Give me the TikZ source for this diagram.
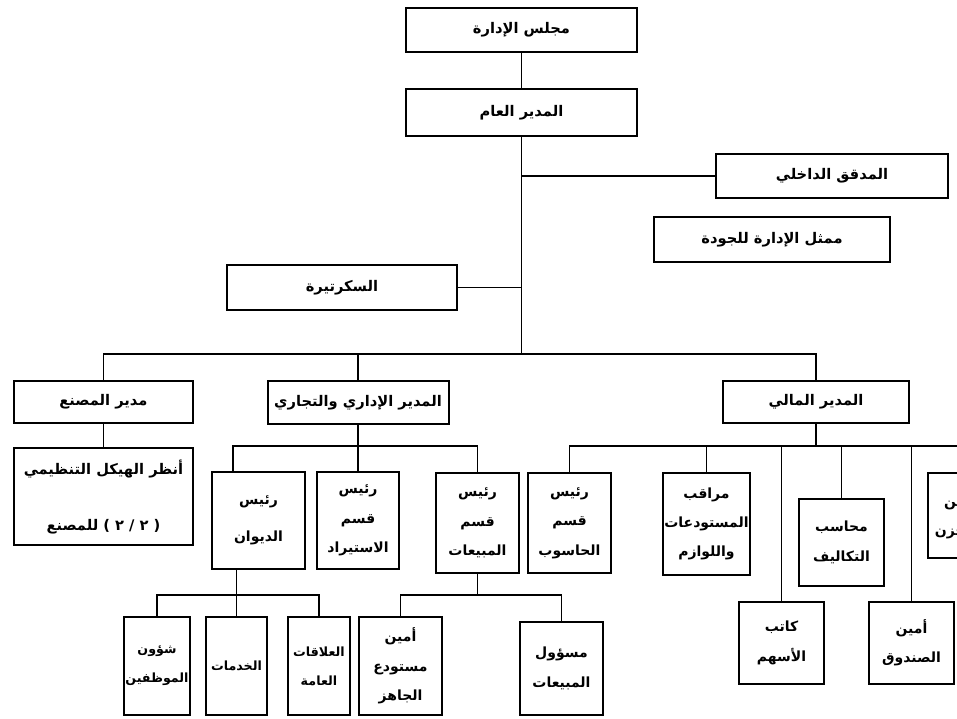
\documentclass[tikz,border=0pt]{standalone}
\usepackage{fontspec}
\usetikzlibrary{positioning}
\newfontfamily\arabicfont[Script=Arabic]{DejaVu Sans}
\TeXXeTstate=1
\newcommand{\artxt}[1]{{\arabicfont\bfseries\beginR #1\endR}}

\begin{document}
\begin{tikzpicture}[x=0.75pt,y=0.75pt,yscale=-1,xscale=1,
  unit/.style={draw, line width=1.5pt, inner sep=0.75pt, align=center, font=\fontsize{10.5}{22}\selectfont},
  head/.style={unit, font=\fontsize{11}{22}\selectfont},
  narrow/.style={unit, font=\fontsize{9.5}{22}\selectfont},
  link/.style={line width=1.1pt}]
\path[use as bounding box, clip] (0,0) rectangle (957,718);

%Shape: Rectangle -- top of the chart
\node[head, minimum width=173.25pt, minimum height=33pt] (board) at (521.5,30) {\artxt{مجلس الإدارة}};
\node[head, minimum width=173.25pt, minimum height=35.25pt] (gm) at (521.5,112.5) {\artxt{المدير العام}};
\node[head, minimum width=174pt, minimum height=33pt] (auditor) at (832,176) {\artxt{المدقق الداخلي}};
\node[head, minimum width=177pt, minimum height=33.75pt] (quality) at (772,239.5) {\artxt{ممثل الإدارة للجودة}};
\node[head, minimum width=172.5pt, minimum height=33.75pt] (secretary) at (342,287.5) {\artxt{السكرتيرة}};

%Shape: Rectangle -- directors
\node[head, minimum width=134.25pt, minimum height=31.5pt] (factory) at (103.5,402) {\artxt{مدير المصنع}};
\node[head, minimum width=135.75pt, minimum height=32.25pt] (admin) at (358,402.5) {\artxt{المدير الإداري والتجاري}};
\node[head, minimum width=139.5pt, minimum height=31.5pt] (finance) at (816,402) {\artxt{المدير المالي}};
\node[head, minimum width=134.25pt, minimum height=72.75pt] (seestruct) at (103.5,496.5) {\artxt{أنظر الهيكل التنظيمي}\\[20pt]\artxt{( ٢ / ٢ ) للمصنع}};

%Shape: Rectangle -- heads of sections
\node[unit, minimum width=69.75pt, minimum height=72.75pt] (divan) at (258.5,520.5) {\artxt{رئيس}\\[6pt]\artxt{الديوان}};
\node[unit, minimum width=61.5pt, minimum height=72.75pt] (import) at (358,520.5) {\artxt{رئيس}\\\artxt{قسم}\\\artxt{الاستيراد}};
\node[unit, minimum width=62.25pt, minimum height=75pt] (sales) at (477.5,523) {\artxt{رئيس}\\\artxt{قسم}\\\artxt{المبيعات}};
\node[unit, minimum width=62.25pt, minimum height=75pt] (computer) at (569.5,523) {\artxt{رئيس}\\\artxt{قسم}\\\artxt{الحاسوب}};
\node[unit, minimum width=63.75pt, minimum height=76.5pt] (stores) at (706.5,524) {\artxt{مراقب}\\\artxt{المستودعات}\\\artxt{واللوازم}};
\node[unit, minimum width=63.75pt, minimum height=65.25pt] (costacc) at (841.5,542.5) {\artxt{محاسب}\\\artxt{التكاليف}};
\node[unit, minimum width=63.75pt, minimum height=61.5pt] (sharewr) at (781.5,643) {\artxt{كاتب}\\\artxt{الأسهم}};
\node[unit, minimum width=63.75pt, minimum height=61.5pt] (cashier) at (911.5,643) {\artxt{أمين}\\\artxt{الصندوق}};
\node[unit, minimum width=48pt, minimum height=63.75pt] (keeper) at (960,515.5) {\artxt{أمين}\\\artxt{المخزن}};

%Shape: Rectangle -- bottom row
\node[narrow, minimum width=46.5pt, minimum height=73.5pt] (staff) at (157,666) {\artxt{شؤون}\\\artxt{الموظفين}};
\node[narrow, minimum width=45.75pt, minimum height=73.5pt] (services) at (236.5,666) {\artxt{الخدمات}};
\node[narrow, minimum width=46.5pt, minimum height=73.5pt] (pr) at (319,666) {\artxt{العلاقات}\\\artxt{العامة}};
\node[unit, minimum width=62.25pt, minimum height=73.5pt] (depot) at (400.5,666) {\artxt{أمين}\\\artxt{مستودع}\\\artxt{الجاهز}};
\node[unit, minimum width=62.25pt, minimum height=69.75pt] (salesoff) at (561.5,668.5) {\artxt{مسؤول}\\\artxt{المبيعات}};

% Connectors
\coordinate (bus) at (0,354);
\coordinate (abus) at (233,446);
\coordinate (fbus) at (1000,446);
\coordinate (lbus) at (0,595);
\draw[link] (board) -- (gm);
\draw[link] (gm.south) -- (gm.south |- bus);
\draw[link] (gm.south |- auditor.west) -- (auditor.west);
\draw[link] (secretary.east) -- (secretary.east -| gm.south);
\draw[link] (factory.north) -- (factory.north |- bus) -- (finance.north |- bus) -- (finance.north);
\draw[link] (admin.north) -- (admin.north |- bus);
\draw[link] (factory) -- (seestruct);
\draw[link] (admin.south) -- (admin.south |- abus);
\draw[link] (divan.north -| abus) -- (abus) -- (abus -| sales.north) -- (sales.north);
\draw[link] (import.north |- abus) -- (import.north);
\draw[link] (finance.south) -- (finance.south |- fbus);
\draw[link] (computer.north) -- (computer.north |- fbus) -- (fbus);
\foreach \n in {stores,costacc,sharewr,cashier,keeper}
  \draw[link] (\n.north |- fbus) -- (\n.north);
\draw[link] (divan.south -| services.north) -- (services.north);
\draw[link] (staff.north) -- (staff.north |- lbus) -- (pr.north |- lbus) -- (pr.north);
\draw[link] (sales.south) -- (sales.south |- lbus);
\draw[link] (depot.north) -- (depot.north |- lbus) -- (salesoff.north |- lbus) -- (salesoff.north);

\end{tikzpicture}
\end{document}
